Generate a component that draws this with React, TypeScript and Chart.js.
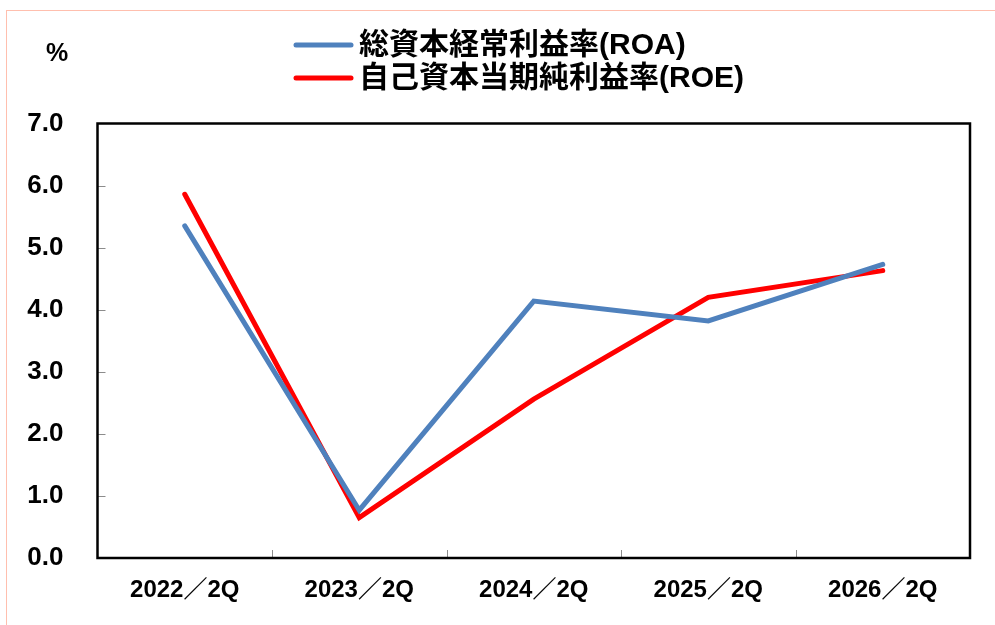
import React, { useEffect, useRef } from "react";
import { Chart, registerables } from "chart.js";

Chart.register(...registerables);

const categories = ["2022／2Q", "2023／2Q", "2024／2Q", "2025／2Q", "2026／2Q"];
const roaValues = [5.35, 0.77, 4.14, 3.82, 4.73];
const roeValues = [5.86, 0.65, 2.56, 4.2, 4.63];
const roaLabel = "総資本経常利益率(ROA)";
const roeLabel = "自己資本当期純利益率(ROE)";
const yTicks = [0, 1, 2, 3, 4, 5, 6, 7];
const unitLabel = "%";

const SANS = '"Liberation Sans", "Noto Sans CJK JP", sans-serif';

const decorPlugin = {
  id: "decor",
  afterDraw(chart: any) {
    const ctx = chart.ctx;
    const area = chart.chartArea;
    const xs = chart.scales.x;
    const ys = chart.scales.y;
    ctx.save();
    // inner tick marks
    ctx.strokeStyle = "#8c8c8c";
    ctx.lineWidth = 1;
    yTicks.forEach((v) => {
      if (v === 0 || v === 7) return;
      const y = Math.round(ys.getPixelForValue(v)) + 0.5;
      ctx.beginPath();
      ctx.moveTo(area.left, y);
      ctx.lineTo(area.left + 8, y);
      ctx.stroke();
    });
    for (let k = 1; k < categories.length; k++) {
      const x = Math.round((xs.getPixelForTick(k - 1) + xs.getPixelForTick(k)) / 2) + 0.5;
      ctx.beginPath();
      ctx.moveTo(x, area.bottom);
      ctx.lineTo(x, area.bottom - 8);
      ctx.stroke();
    }
    // frame
    ctx.strokeStyle = "#000";
    ctx.lineWidth = 2.5;
    ctx.strokeRect(area.left, area.top, area.right - area.left, area.bottom - area.top);
    // unit label
    ctx.fillStyle = "#000";
    ctx.font = "bold 25px " + SANS;
    ctx.textAlign = "center";
    ctx.textBaseline = "middle";
    ctx.fillText(unitLabel, 57, 54);
    // legend
    const items = [
      { label: roaLabel, color: chart.data.datasets[0].borderColor, y: 45 },
      { label: roeLabel, color: chart.data.datasets[1].borderColor, y: 78 },
    ];
    ctx.lineCap = "round";
    items.forEach((it) => {
      ctx.strokeStyle = it.color;
      ctx.lineWidth = 5;
      ctx.beginPath();
      ctx.moveTo(296, it.y);
      ctx.lineTo(351, it.y);
      ctx.stroke();
      ctx.fillStyle = "#000";
      ctx.font = "bold 30px " + SANS;
      ctx.textAlign = "left";
      ctx.textBaseline = "middle";
      ctx.fillText(it.label, 359, it.y + 1);
    });
    ctx.restore();
  },
};

export default function App() {
  const ref = useRef<HTMLCanvasElement>(null);
  useEffect(() => {
    if (!ref.current) return;
    const chart = new Chart(ref.current, {
      type: "line",
      data: {
        labels: categories,
        datasets: [
          {
            label: roaLabel,
            data: roaValues,
            borderColor: "#4f81bd",
            backgroundColor: "#4f81bd",
            borderWidth: 5,
            pointRadius: 0,
            tension: 0,
            borderCapStyle: "round",
            borderJoinStyle: "miter",
          },
          {
            label: roeLabel,
            data: roeValues,
            borderColor: "#ff0000",
            backgroundColor: "#ff0000",
            borderWidth: 5,
            pointRadius: 0,
            tension: 0,
            borderCapStyle: "round",
            borderJoinStyle: "miter",
          },
        ],
      },
      options: {
        responsive: false,
        animation: false,
        layout: { padding: { left: 0, top: 123.5, right: 25, bottom: 0 } },
        plugins: { legend: { display: false }, tooltip: { enabled: false }, title: { display: false } },
        scales: {
          x: {
            offset: true,
            grid: { display: false, drawTicks: false },
            border: { display: false },
            ticks: {
              color: "#000",
              padding: 18,
              font: { family: SANS, size: 24, weight: "bold" },
              maxRotation: 0,
            },
            afterFit(scale: any) {
              scale.height = 67;
            },
          },
          y: {
            min: 0,
            max: 7,
            grid: { display: false, drawTicks: false },
            border: { display: false },
            ticks: {
              stepSize: 1,
              color: "#000",
              padding: 34,
              font: { family: SANS, size: 26, weight: "bold" },
              callback: (v: any) => Number(v).toFixed(1),
            },
            afterFit(scale: any) {
              scale.width = 97.5;
            },
          },
        },
      },
      plugins: [decorPlugin],
    });
    return () => chart.destroy();
  }, []);
  return (
    <div style={{ position: "absolute", left: 0, top: 0, width: 995, height: 625, background: "#fff", overflow: "hidden" }}>
      <div
        style={{
          position: "absolute",
          left: 6,
          top: 10,
          width: 1100,
          height: 700,
          borderLeft: "1.5px solid #ffbfae",
          borderTop: "1.5px solid #ffbfae",
        }}
      />
      <canvas ref={ref} width={995} height={625} style={{ position: "absolute", left: 0, top: 0 }} />
    </div>
  );
}
